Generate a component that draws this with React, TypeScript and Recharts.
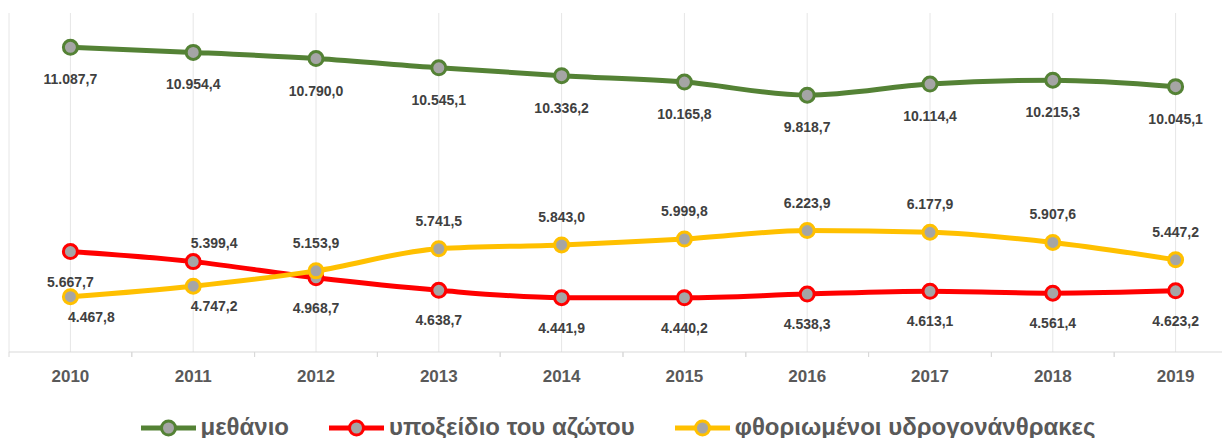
import { LineChart, Line, XAxis, YAxis, CartesianGrid, Legend, LabelList } from 'recharts'

const years = ['2010', '2011', '2012', '2013', '2014', '2015', '2016', '2017', '2018', '2019']
const methane = [11087.7, 10954.4, 10790.0, 10545.1, 10336.2, 10165.8, 9818.7, 10114.4, 10215.3, 10045.1]
const nitrousOxide = [5667.7, 5399.4, 4968.7, 4638.7, 4441.9, 4440.2, 4538.3, 4613.1, 4561.4, 4623.2]
const fGases = [4467.8, 4747.2, 5153.9, 5741.5, 5843.0, 5999.8, 6223.9, 6177.9, 5907.6, 5447.2]

const names = ['μεθάνιο', 'υποξείδιο του αζώτου', 'φθοριωμένοι υδρογονάνθρακες']
const colors = ['#548235', '#ff0000', '#ffc000']

const data = years.map((y, i) => ({ year: y, ch4: methane[i], n2o: nitrousOxide[i], fg: fGases[i] }))

const FONT = '"Liberation Sans", Arial, sans-serif'
const W = 1245
const H = 438
const M = { top: 13, right: 8, left: 9, bottom: 0 }
const BAND = (W - M.left - M.right) / years.length

// greek number format: 11.087,7
const fmt = (v: number) => {
  const [int, dec] = v.toFixed(1).split('.')
  return int.replace(/\B(?=(\d{3})+(?!\d))/g, '.') + ',' + dec
}

// label placement per point (dx, baseline offset)
const below = { dx: 0, dy: 35 }
const place: Record<string, { dx: number; dy: number }[]> = {
  ch4: years.map(() => ({ dx: 0, dy: 37 })),
  n2o: years.map((_, i) => (i === 1 ? { dx: 21, dy: -14 } : below)),
  fg: years.map((_, i) => (i < 2 ? { dx: 21, dy: 25 } : { dx: 0, dy: -23 })),
}

const makeLabel = (key: string) => (props: any) => {
  const { x, y, value, index } = props
  const p = place[key][index]
  return (
    <text x={x + p.dx} y={y + p.dy} textAnchor="middle" fontFamily={FONT} fontWeight="bold" fontSize={14} fill="#404040">
      {fmt(value)}
    </text>
  )
}

const YearTick = (props: any) => {
  const { x, y, payload } = props
  return (
    <g>
      <line x1={x - BAND / 2} x2={x - BAND / 2} y1={y} y2={y + 5} stroke="#d9d9d9" />
      <line x1={x + BAND / 2} x2={x + BAND / 2} y1={y} y2={y + 5} stroke="#d9d9d9" />
      <text x={x} y={y + 30} textAnchor="middle" fontFamily={FONT} fontWeight="bold" fontSize={17} fill="#595959">
        {payload.value}
      </text>
    </g>
  )
}

const LegendBox = () => (
  <div style={{ display: 'flex', justifyContent: 'center', gap: 40, height: 50, paddingTop: 29, paddingRight: 10, boxSizing: 'border-box' }}>
    {names.map((n, i) => (
      <div key={n} style={{ display: 'flex', alignItems: 'center', gap: 5 }}>
        <svg width={55} height={20}>
          <line x1={0} x2={55} y1={10} y2={10} stroke={colors[i]} strokeWidth={5} />
          <circle cx={27.5} cy={10} r={7} fill="#a5a5a5" stroke={colors[i]} strokeWidth={3} />
        </svg>
        <span style={{ fontFamily: FONT, fontWeight: 'bold', fontSize: 24, color: '#595959', lineHeight: '20px', marginTop: -2 }}>{n}</span>
      </div>
    ))}
  </div>
)

const series = [
  { key: 'ch4', name: names[0], color: colors[0] },
  { key: 'n2o', name: names[1], color: colors[1] },
  { key: 'fg', name: names[2], color: colors[2] },
]

export default function App() {
  return (
    <div style={{ position: 'fixed', left: 0, top: 0, width: 1222, height: H, overflow: 'hidden', background: '#fff' }}>
      <LineChart width={W} height={H} data={data} margin={M}>
        <CartesianGrid vertical horizontal={false} stroke="#e6e6e6" />
        <XAxis
          dataKey="year"
          axisLine={{ stroke: '#d9d9d9' }}
          tickLine={false}
          tickSize={0}
          tickMargin={0}
          height={36}
          tick={<YearTick />}
          interval={0}
          padding={{ left: BAND / 2, right: BAND / 2 }}
        />
        <YAxis hide domain={[3000, 12000]} />
        <Legend verticalAlign="bottom" height={50} content={<LegendBox />} />
        {series.map(s => (
          <Line
            key={s.key}
            type="monotone"
            dataKey={s.key}
            name={s.name}
            stroke={s.color}
            strokeWidth={5}
            dot={{ r: 7, fill: '#a5a5a5', stroke: s.color, strokeWidth: 3 }}
            activeDot={false}
            isAnimationActive={false}
          >
            <LabelList dataKey={s.key} content={makeLabel(s.key)} />
          </Line>
        ))}
      </LineChart>
    </div>
  )
}
